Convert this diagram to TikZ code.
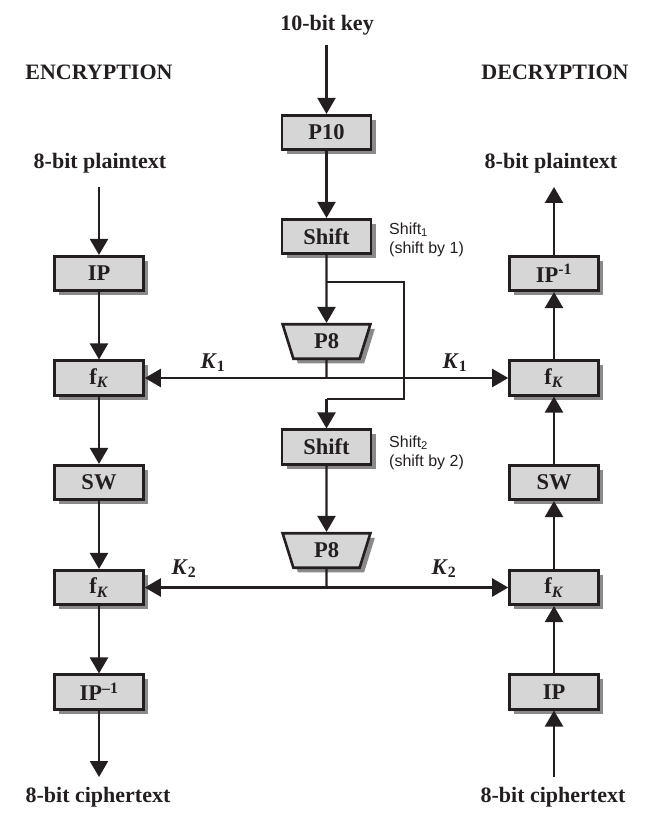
\documentclass[tikz,border=0pt]{standalone}
\usepackage{fontspec}
\setmainfont{Liberation Serif}
\newfontfamily\labelsans{Liberation Sans}
\usetikzlibrary{arrows.meta,shapes.geometric,shadows}
\definecolor{ink}{HTML}{231F20}
\definecolor{boxfill}{HTML}{D6D6D6}
\definecolor{shade}{HTML}{8A8A8A}
\begin{document}
\begin{tikzpicture}[x=1pt,y=-1pt,
  line/.style={draw=ink, line width=2.2pt},
  arr/.style={line, -{Triangle[length=16pt,width=18pt]}},
  box/.style={draw=ink, line width=2.6pt, fill=boxfill, minimum width=89pt, minimum height=34.5pt,
    inner sep=0pt, text=ink, font=\fontsize{22.5}{24}\selectfont\bfseries,
    drop shadow={shadow xshift=4.5pt, shadow yshift=-4.5pt, fill=shade, opacity=1}},
  pbox/.style={box, trapezium, trapezium stretches=true, shape border rotate=180,
    trapezium left angle=75, trapezium right angle=75, minimum width=88pt, minimum height=34.5pt},
  lbl/.style={text=ink, inner sep=0pt, font=\fontsize{22}{24}\selectfont\bfseries},
  note/.style={text=ink, inner sep=0pt, anchor=base west, font=\fontsize{16}{18}\selectfont\labelsans},
  klbl/.style={text=ink, inner sep=0pt, anchor=base, font=\fontsize{22.5}{24}\selectfont\bfseries}
  ]
\useasboundingbox (0,0) rectangle (657,834);

% titles
\node[lbl] (key) at (327,25) {10-bit key};
\node[lbl] (enc) at (99,72) {ENCRYPTION};
\node[lbl] (dec) at (555,72) {DECRYPTION};
\node[lbl] (ptL) at (100,163) {8-bit plaintext};
\node[lbl] (ptR) at (551,163) {8-bit plaintext};
\node[lbl] (ctL) at (98,797) {8-bit ciphertext};
\node[lbl] (ctR) at (553,797) {8-bit ciphertext};

% key generation column
\node[box] (p10) at (326.5,132.5) {P10};
\node[box] (sh1) at (326.5,236.5) {Shift};
\node[pbox] (p8a) at (326.5,341.5) {P8};
\node[box] (sh2) at (326.5,447) {Shift};
\node[pbox] (p8b) at (326.5,550.5) {P8};

\node[note] (s1a) at (389,234) {Shift\textsubscript{1}};
\node[note] (s1b) at (389,253) {(shift by 1)};
\node[note] (s2a) at (389,447) {Shift\textsubscript{2}};
\node[note] (s2b) at (389,466) {(shift by 2)};

% encryption column
\node[box] (ipL) at (99,273.5) {IP};
\node[box] (fk1L) at (99,378) {f\textsubscript{\textit{K}}};
\node[box] (swL) at (99,482.5) {SW};
\node[box] (fk2L) at (99,587.5) {f\textsubscript{\textit{K}}};
\node[box] (ipiL) at (99,692) {IP\textsuperscript{–1}};

% decryption column
\node[box] (ipiR) at (554,273.5) {IP\textsuperscript{-1}};
\node[box] (fk1R) at (554,378) {f\textsubscript{\textit{K}}};
\node[box] (swR) at (554,482.5) {SW};
\node[box] (fk2R) at (554,587.5) {f\textsubscript{\textit{K}}};
\node[box] (ipR) at (554,692) {IP};

% coordinates
\coordinate (keyS) at (326.5,45);
\coordinate (br1) at (326.5,282);
\coordinate (br2) at (404,282);
\coordinate (br3) at (404,399);
\coordinate (br4) at (326.5,399);
\coordinate (k1) at (326.5,378);
\coordinate (k2) at (326.5,587.5);
\coordinate (ptLs) at (99,187);
\coordinate (ptRs) at (554,187);
\coordinate (ctLs) at (99,777);
\coordinate (ctRs) at (554,777);

% key connectors
\draw[arr] (keyS) -- (p10.north);
\draw[arr] (p10.south) -- (sh1.north);
\draw[arr] (sh1.south) -- (p8a.north);
\draw[line] (br1) -- (br2) -- (br3) -- (br4);
\draw[arr] (br4) -- (sh2.north);
\draw[arr] (sh2.south) -- (p8b.north);
\draw[line] (p8a.south) -- (k1);
\draw[line] (p8b.south) -- (k2);
\draw[arr] (k1) -- (fk1L.east);
\draw[arr] (k1) -- (fk1R.west);
\draw[arr] (k2) -- (fk2L.east);
\draw[arr] (k2) -- (fk2R.west);

\node[klbl] (k1L) at (213,368) {\textit{K}\textsubscript{1}};
\node[klbl] (k1R) at (455,368) {\textit{K}\textsubscript{1}};
\node[klbl] (k2L) at (184,574) {\textit{K}\textsubscript{2}};
\node[klbl] (k2R) at (444,574) {\textit{K}\textsubscript{2}};

% encryption connectors
\draw[arr] (ptLs) -- (ipL.north);
\draw[arr] (ipL.south) -- (fk1L.north);
\draw[arr] (fk1L.south) -- (swL.north);
\draw[arr] (swL.south) -- (fk2L.north);
\draw[arr] (fk2L.south) -- (ipiL.north);
\draw[arr] (ipiL.south) -- (ctLs);

% decryption connectors
\draw[arr] (ctRs) -- (ipR.south);
\draw[arr] (ipR.north) -- (fk2R.south);
\draw[arr] (fk2R.north) -- (swR.south);
\draw[arr] (swR.north) -- (fk1R.south);
\draw[arr] (fk1R.north) -- (ipiR.south);
\draw[arr] (ipiR.north) -- (ptRs);
\end{tikzpicture}
\end{document}
